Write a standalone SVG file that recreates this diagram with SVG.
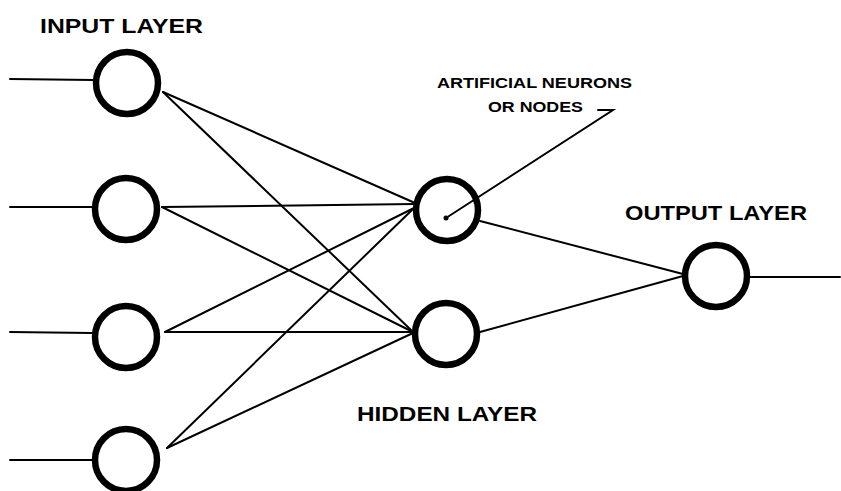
<svg xmlns="http://www.w3.org/2000/svg" width="841" height="491" viewBox="0 0 841 491">
<style>
.node{fill:none;stroke:#000;stroke-width:6.5}
.c{stroke:#000;stroke-width:2;fill:none;stroke-linecap:round}
.t{font-family:"Liberation Sans",Arial,sans-serif;font-weight:bold;fill:#000}
</style>
<rect width="841" height="491" fill="#fff"/>
<g id="connectors">
<line class="c" x1="10" y1="79" x2="93" y2="80"/>
<line class="c" x1="10" y1="207" x2="92" y2="207"/>
<line class="c" x1="10" y1="332" x2="92" y2="333"/>
<line class="c" x1="10" y1="460" x2="92" y2="460"/>
<line class="c" x1="163" y1="92" x2="415" y2="203"/>
<line class="c" x1="163" y1="92" x2="411" y2="330"/>
<line class="c" x1="162" y1="207" x2="415" y2="204"/>
<line class="c" x1="162" y1="207" x2="411" y2="331"/>
<line class="c" x1="165" y1="332" x2="414" y2="208"/>
<line class="c" x1="165" y1="332" x2="413" y2="332"/>
<line class="c" x1="167" y1="448" x2="413" y2="209"/>
<line class="c" x1="167" y1="448" x2="413" y2="333"/>
<line class="c" x1="480" y1="221" x2="683" y2="274"/>
<line class="c" x1="480" y1="332" x2="683" y2="276"/>
<line class="c" x1="750" y1="277" x2="840" y2="277"/>
<polyline class="c" points="446,218 613,110 598,110"/>
</g>
<g id="input1"><circle class="node" cx="127" cy="83" r="31"/></g>
<g id="input2"><circle class="node" cx="126" cy="209" r="31"/></g>
<g id="input3"><circle class="node" cx="126" cy="337" r="31"/></g>
<g id="input4"><circle class="node" cx="126" cy="460" r="31"/></g>
<g id="hidden1"><circle class="node" cx="447" cy="210" r="31"/><circle cx="446" cy="218" r="2.5" fill="#000"/></g>
<g id="hidden2"><circle class="node" cx="446" cy="334" r="31"/></g>
<g id="output"><circle class="node" cx="716" cy="276" r="31"/></g>
<g id="labels">
<text class="t" x="40" y="33" font-size="21" textLength="163" lengthAdjust="spacingAndGlyphs">INPUT LAYER</text>
<text class="t" x="625" y="220" font-size="21" textLength="182" lengthAdjust="spacingAndGlyphs">OUTPUT LAYER</text>
<text class="t" x="357" y="421" font-size="21" textLength="180" lengthAdjust="spacingAndGlyphs">HIDDEN LAYER</text>
<text class="t" x="437" y="88" font-size="15" textLength="195" lengthAdjust="spacingAndGlyphs">ARTIFICIAL NEURONS</text>
<text class="t" x="488" y="112" font-size="15" textLength="95" lengthAdjust="spacingAndGlyphs">OR NODES</text>
</g>
</svg>
